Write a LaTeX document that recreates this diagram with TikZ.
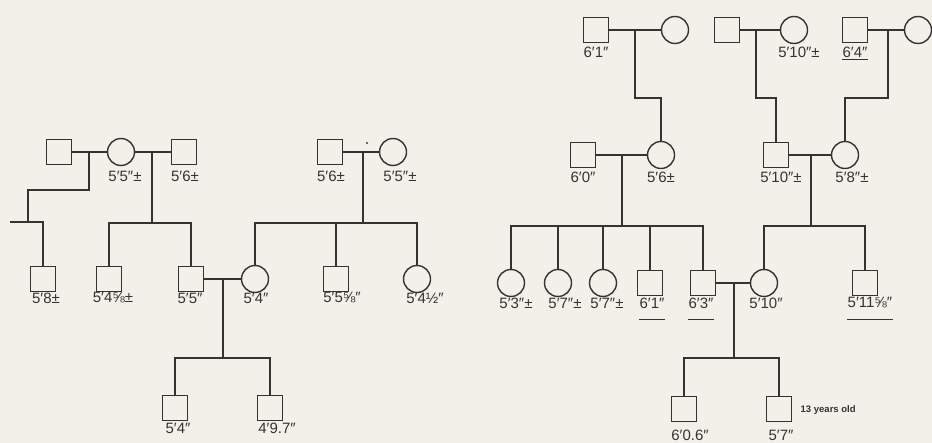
\documentclass[tikz,border=0pt]{standalone}
\usepackage{fontspec}
\setmainfont{Liberation Sans}
\definecolor{paper}{RGB}{243,240,234}
\begin{document}
\begin{tikzpicture}[x=1pt,y=-1pt,line width=1.4pt,ink/.style={draw=black!80},
  male/.style={ink,rectangle,minimum size=25pt,inner sep=0},
  female/.style={ink,circle,minimum size=27pt,inner sep=0},
  ht/.style={text=black!80,inner sep=0,font=\fontsize{15}{16}\selectfont},
  tiny/.style={text=black!80,inner sep=0,font=\fontsize{9.5}{10}\selectfont\bfseries}]
\fill[paper] (0,0) rectangle (932,443);\useasboundingbox (0,0) rectangle (932,443);
% left family
\node[male] (A) at (59,152){};\node[female] (B) at (121,152){};\node[male] (D) at (184,152){};
\node[male] (G) at (330,152){};\node[female] (H) at (393,152){};
\node[male] (C) at (43,279){};\node[male] (E) at (109,279){};\node[male] (F) at (191,279){};
\node[female] (I) at (255,279){};\node[male] (J) at (336,279){};\node[female] (K) at (417,279){};
\node[male] (L) at (175,408){};\node[male] (M) at (270,408){};
\node[ht] (lB) at (125,176){5′5″±};\node[ht] (lD) at (185,176){5′6±};
\node[ht] (lG) at (331,176){5′6±};\node[ht] (lH) at (400,176){5′5″±};
\node[ht] (lC) at (46,298){5′8±};\node[ht] (lE) at (113,298){5′4⅝±};
\node[ht] (lF) at (190,298){5′5″};\node[ht] (lI) at (256,298){5′4″};
\node[ht] (lJ) at (342,298){5′5⅝″};\node[ht] (lK) at (425,298){5′4½″};
\node[ht] (lL) at (178,428){5′4″};\node[ht] (lM) at (277,428){4′9.7″};
\draw[ink] (A)--(B);\draw[ink] (B)--(D);\draw[ink] (G)--(H);\draw[ink] (F)--(I);
\coordinate (ab) at (89,152);\coordinate (abk) at (28,190);\coordinate (cl) at (10,222);
\draw[ink] (ab) |- (abk) |- (cl) -| (C);
\coordinate (bd) at (152,152);\coordinate (bds) at (152,223);
\draw[ink] (bd)--(bds);\draw[ink] (E) |- (bds) -| (F);
\coordinate (gh) at (363,152);\coordinate (ghs) at (363,223);
\draw[ink] (gh)--(ghs);\draw[ink] (I) |- (ghs) -| (K);\draw[ink] (J)--(J |- ghs);
\fill[black!80] (367,143) circle[radius=1.2];
\coordinate (fi) at (223,279);\coordinate (fis) at (223,358);
\draw[ink] (fi)--(fis);\draw[ink] (L) |- (fis) -| (M);
% right family
\node[male] (N) at (596,30){};\node[female] (O) at (675,30){};
\node[male] (R) at (727,30){};\node[female] (S) at (794,30){};
\node[male] (U) at (855,30){};\node[female] (V) at (918,30){};
\node[male] (P) at (583,155){};\node[female] (Q) at (661,155){};
\node[male] (T) at (776,155){};\node[female] (W) at (845,155){};
\node[female] (Q1) at (511,283){};\node[female] (Q2) at (558,283){};\node[female] (Q3) at (603,283){};
\node[male] (Q4) at (650,283){};\node[male] (Q5) at (703,283){};
\node[female] (X) at (764,283){};\node[male] (Y) at (865,283){};
\node[male] (Z1) at (684,409){};\node[male] (Z2) at (779,409){};
\node[ht] (lN) at (596,52){6′1″};\node[ht] (lS) at (799,52){5′10″±};\node[ht] (lU) at (855,52){6′4″};
\node[ht] (lP) at (583,177){6′0″};\node[ht] (lQ) at (661,177){5′6±};
\node[ht] (lT) at (781,177){5′10″±};\node[ht] (lW) at (852,177){5′8″±};
\node[ht] (l1) at (516,303){5′3″±};\node[ht] (l2) at (565,303){5′7″±};\node[ht] (l3) at (607,303){5′7″±};
\node[ht] (l4) at (652,303){6′1″};\node[ht] (l5) at (701,303){6′3″};
\node[ht] (lX) at (766,303){5′10″};\node[ht] (lY) at (870,303){5′11⅝″};
\node[ht] (lZ1) at (690,435){6′0.6″};\node[ht] (lZ2) at (781,435){5′7″};
\node[tiny,anchor=west] (age) at (800,410){13 years old};
\coordinate (uline) at (0,320);
\draw[ink,line width=1pt] ([yshift=-1pt]lU.south west)--([yshift=-1pt]lU.south east);
\foreach \n in {l4,l5,lY} \draw[ink,line width=1pt] (\n.south west |- uline)--(\n.south east |- uline);
\draw[ink] (N)--(O);\draw[ink] (R)--(S);\draw[ink] (U)--(V);
\draw[ink] (P)--(Q);\draw[ink] (T)--(W);\draw[ink] (Q5)--(X);
\coordinate (no) at (635,30);\draw[ink] (no) -- ++(0,68) -| (Q);
\coordinate (rs) at (756,30);\draw[ink] (rs) -- ++(0,68) -| (T);
\coordinate (uv) at (888,30);\draw[ink] (uv) -- ++(0,68) -| (W);
\coordinate (pq) at (622,155);\coordinate (pqs) at (622,226);
\draw[ink] (pq)--(pqs);\draw[ink] (Q1) |- (pqs) -| (Q5);
\foreach \n in {Q2,Q3,Q4} \draw[ink] (\n)--(\n |- pqs);
\coordinate (tw) at (811,155);\coordinate (tws) at (811,226);
\draw[ink] (tw)--(tws);\draw[ink] (X) |- (tws) -| (Y);
\coordinate (qx) at (734,283);\coordinate (qxs) at (734,358);
\draw[ink] (qx)--(qxs);\draw[ink] (Z1) |- (qxs) -| (Z2);
\end{tikzpicture}
\end{document}
